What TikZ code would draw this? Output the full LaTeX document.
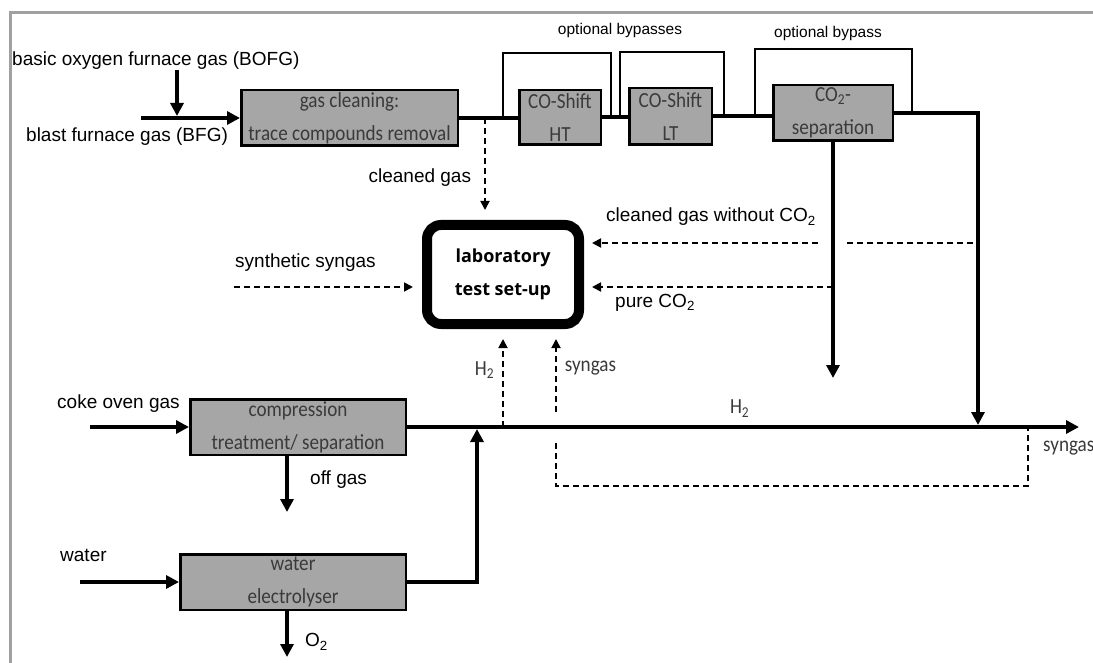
\documentclass[tikz,border=0pt]{standalone}
\usepackage{fontspec}
\setmainfont{Liberation Sans}
\newfontfamily\boxfont[FakeStretch=0.89]{Carlito}
\newfontfamily\labfont{Open Sans}
\usetikzlibrary{arrows.meta}
\definecolor{boxgray}{HTML}{A6A6A6}
\definecolor{boxtext}{HTML}{3A3A3A}
\definecolor{framegray}{HTML}{A0A0A0}
\begin{document}
\begin{tikzpicture}[x=1pt, y=-1pt,
  lbl/.style={font=\fontsize{19}{22}\selectfont, inner sep=0pt},
  smalllbl/.style={font=\fontsize{15.5}{18}\selectfont, inner sep=0pt},
  glbl/.style={font=\boxfont\fontsize{21.5}{24}\selectfont, text=boxtext, inner sep=0pt},
  box/.style={draw, fill=boxgray, line width=2.5pt, inner sep=0pt, align=center, text=boxtext, font=\boxfont\fontsize{21.5}{33}\selectfont},
  pipe/.style={line width=4pt},
  flow/.style={line width=4pt, -{Triangle[length=13pt, width=13pt]}},
  dline/.style={line width=1.8pt, dash pattern=on 6pt off 4pt},
  dflow/.style={dline, -{Triangle[length=9pt, width=9pt]}},
  bypass/.style={line width=2pt}]
\useasboundingbox (0,0) rectangle (1093,663);
\draw[framegray, line width=3pt] (10,663) -- (10,13) -- (1093,13);
% top row
\node[box, minimum width=216.5pt, minimum height=55.5pt] (P_0_0) at (349.5,118) {gas cleaning:\\trace compounds removal};
\node[box, minimum width=81.5pt, minimum height=54.5pt] (P_0_1) at (560,117.5) {CO-Shift\\HT};
\node[box, minimum width=82.5pt, minimum height=56.5pt] (P_0_2) at (670.5,116.5) {CO-Shift\\LT};
\node[box, minimum width=119.5pt, minimum height=55.5pt] (P_0_3) at (833,113) {CO\textsubscript{2}-\\separation};
\node[lbl, anchor=west] (T_0) at (12,61) {basic oxygen furnace gas (BOFG)};
\node[lbl, anchor=west] (T_1) at (26,137) {blast furnace gas (BFG)};
\coordinate (C_17) at (141,118);
\coordinate (C_18) at (177,70);
\draw[flow] (C_17) -- (C_17 -| P_0_0.west);
\draw[flow, line width=3.5pt] (C_18) -- ([yshift=2pt]C_18 |- C_17);
\draw[pipe] (P_0_0.east) -- (P_0_0.east -| P_0_1.west);
\draw[pipe] (P_0_1.east) -- (P_0_1.east -| P_0_2.west);
\draw[pipe] (P_0_2.east) -- (P_0_2.east -| P_0_3.west);
\coordinate (C_0) at (978,113);
\coordinate (C_1) at (978,425);
\draw[flow] (P_0_3.east) -- (C_0) -- (C_1);
\coordinate (C_2) at (833,378);
\draw[flow] (P_0_3.south) -- (C_2);
% bypasses
\coordinate (C_20) at (503,118);
\coordinate (C_21) at (611,117.5);
\draw[bypass] (C_20) -- ++(0,-65) -| (C_21);
\coordinate (C_22) at (620,117.5);
\coordinate (C_23) at (724,116.5);
\draw[bypass] (C_22) -- ++(0,-65.5) -| (C_23);
\coordinate (C_24) at (755,116.5);
\coordinate (C_25) at (912,113);
\draw[bypass] (C_24) -- ++(0,-67.5) -| (C_25);
\node[smalllbl] (T_2) at (620,30) {optional bypasses};
\node[smalllbl] (T_3) at (828,33) {optional bypass};
% laboratory
\node[draw, line width=10pt, rounded corners=14pt, minimum width=152pt, minimum height=99pt, align=center, font=\labfont\bfseries\fontsize{18}{33}\selectfont] (P_1_0) at (503,274.5) {laboratory\\test set-up};
\coordinate (C_3) at (485,118);
\draw[dflow, shorten >=10pt] (C_3) -- (C_3 |- P_1_0.north) node[pos=0.58, left=13pt, lbl] (T_4) {cleaned gas};
\coordinate (C_4) at (818,243);
\draw[dflow, shorten >=8pt] (C_4) -- (C_4 -| P_1_0.east);
\node[lbl, anchor=west] (T_5) at (606,217) {cleaned gas without CO\textsubscript{2}};
\coordinate (C_5) at (847,243);
\draw[dline] (C_5) -- (C_5 -| C_0);
\coordinate (C_6) at (833,287);
\draw[dflow, shorten >=8pt] (C_6) -- (C_6 -| P_1_0.east);
\node[lbl, anchor=west] (T_6) at (615,303) {pure CO\textsubscript{2}};
\coordinate (C_7) at (234,287);
\draw[dflow, shorten >=9pt] (C_7) -- (C_7 -| P_1_0.west);
\node[lbl, anchor=west] (T_7) at (235,263) {synthetic syngas};
\coordinate (C_8) at (503,427);
\draw[dflow, shorten >=10pt] (C_8) -- (C_8 |- P_1_0.south) node[pos=0.58, left=8pt, glbl] (T_8) {H\textsubscript{2}};
\coordinate (C_9) at (556,412);
\draw[dflow, shorten >=10pt] (C_9) -- (C_9 |- P_1_0.south) node[pos=0.53, right=8pt, glbl] (T_9) {syngas};
% bottom rows
\node[box, minimum width=215.5pt, minimum height=55.5pt] (P_2_0) at (298,427) {compression\\treatment/ separation};
\node[box, minimum width=225.5pt, minimum height=55.5pt] (P_3_0) at (293,582) {water\\electrolyser};
\coordinate (C_12) at (1079,427);
\draw[flow] (P_2_0.east) -- (C_12) node[pos=0.495, above=8pt, glbl] (T_10) {H\textsubscript{2}};
\node[glbl, anchor=west] (T_11) at (1043,448) {syngas};
\coordinate (C_10) at (556,443);
\coordinate (C_11) at (1028,427);
\draw[dline] (C_10) -- ++(0,43) -| (C_11);
\coordinate (C_13) at (90,427);
\draw[flow] (C_13) -- (P_2_0.west);
\node[lbl, anchor=west] (T_12) at (57,404) {coke oven gas};
\draw[flow] ([xshift=-11pt]P_2_0.south) -- ++(0,56);
\node[lbl, anchor=west] (T_13) at (310,480) {off gas};
\coordinate (C_15) at (80,582);
\draw[flow] (C_15) -- (P_3_0.west);
\node[lbl, anchor=west] (T_14) at (60,555) {water};
\coordinate (C_16) at (477,429);
\draw[flow] (P_3_0.east) -| (C_16);
\draw[flow] ([xshift=-6pt]P_3_0.south) -- ++(0,46);
\node[lbl, anchor=west] (T_15) at (305,642) {O\textsubscript{2}};
\end{tikzpicture}
\end{document}
